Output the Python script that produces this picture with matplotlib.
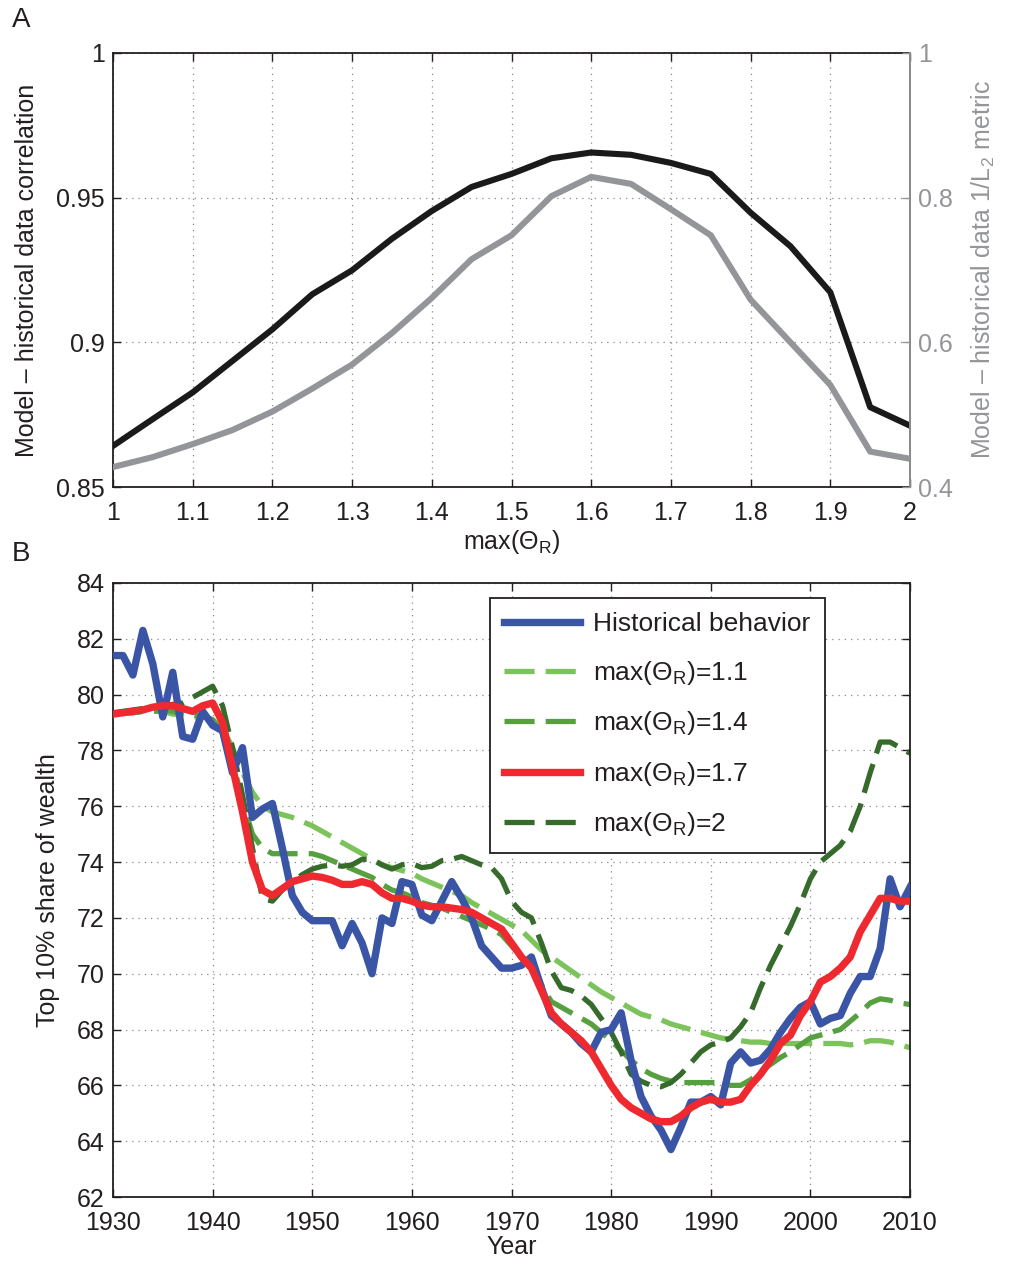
import numpy as np
import matplotlib
matplotlib.use("Agg")
import matplotlib.pyplot as plt

plt.rcParams['font.family'] = ['Liberation Sans', 'DejaVu Sans']
plt.rcParams['mathtext.fontset'] = 'custom'
plt.rcParams['mathtext.rm'] = 'Liberation Sans'
plt.rcParams['mathtext.it'] = 'Liberation Sans'
plt.rcParams['mathtext.default'] = 'regular'

# Panel A: fit quality against max(Theta_R)
theta_max = [1.0, 1.05, 1.1, 1.15, 1.2, 1.25, 1.3, 1.35, 1.4, 1.45, 1.5,
             1.55, 1.6, 1.65, 1.7, 1.75, 1.8, 1.85, 1.9, 1.95, 2.0]
correlation = [0.8642, 0.8735, 0.8827, 0.8936, 0.9045, 0.9166, 0.9249, 0.9358,
               0.9454, 0.9537, 0.9582, 0.9636, 0.9656, 0.9648, 0.9620, 0.9582,
               0.9448, 0.9332, 0.9173, 0.8776, 0.8712]
inv_l2 = [0.4276, 0.4414, 0.4593, 0.4788, 0.5043, 0.5360, 0.5693, 0.6128,
          0.6614, 0.7150, 0.7480, 0.8020, 0.8287, 0.8190, 0.7840, 0.7480,
          0.6590, 0.6000, 0.5410, 0.4490, 0.4390]

# Panel B: top 10% wealth share, 1930-2010
years = list(range(1930, 2011))
historical = [81.4, 81.4, 80.7, 82.3, 81.1, 79.2, 80.8, 78.5, 78.4, 79.4,
              78.9, 78.7, 77.2, 78.1, 75.6, 75.9, 76.1, 74.5, 72.8, 72.2,
              71.9, 71.9, 71.9, 71.0, 71.8, 71.1, 70.0, 72.0, 71.8, 73.3,
              73.2, 72.1, 71.9, 72.6, 73.3, 72.7, 72.0, 71.0, 70.6, 70.2,
              70.2, 70.3, 70.6, 69.5, 68.5, 68.2, 67.9, 67.5, 67.2, 67.9,
              68.0, 68.6, 66.9, 65.6, 64.9, 64.4, 63.7, 64.5, 65.4, 65.4,
              65.6, 65.3, 66.8, 67.2, 66.8, 66.9, 67.3, 67.9, 68.4, 68.8,
              69.0, 68.2, 68.4, 68.5, 69.3, 69.9, 69.9, 70.9, 73.4, 72.4,
              73.1]
model_11 = [79.35, 79.35, 79.35, 79.4, 79.4, 79.4, 79.3, 79.3, 79.2, 79.2,
            79.1, 78.8, 78.1, 77.2, 76.5, 76.0, 75.8, 75.7, 75.6, 75.45,
            75.3, 75.1, 74.9, 74.7, 74.5, 74.3, 74.1, 73.9, 73.8, 73.7,
            73.6, 73.4, 73.25, 73.1, 72.95, 72.8, 72.55, 72.35, 72.15, 71.95,
            71.75, 71.55, 71.2, 70.85, 70.6, 70.35, 70.1, 69.85, 69.6, 69.35,
            69.15, 68.95, 68.75, 68.55, 68.45, 68.35, 68.2, 68.1, 68.0, 67.9,
            67.8, 67.7, 67.65, 67.6, 67.55, 67.55, 67.5, 67.5, 67.5, 67.5,
            67.5, 67.5, 67.5, 67.5, 67.45, 67.5, 67.6, 67.6, 67.55, 67.45,
            67.35]
model_14 = [79.35, 79.35, 79.35, 79.4, 79.4, 79.45, 79.4, 79.3, 79.25, 79.25,
            79.1, 78.6, 77.6, 76.2, 75.0, 74.5, 74.3, 74.3, 74.3, 74.3,
            74.3, 74.2, 74.05, 73.9, 73.75, 73.6, 73.45, 73.2, 73.0, 72.9,
            72.75, 72.55, 72.45, 72.35, 72.2, 72.05, 71.9, 71.75, 71.6, 71.4,
            71.0, 70.6, 70.2, 69.6, 69.0, 68.8, 68.6, 68.4, 68.2, 67.9,
            67.6, 67.25, 66.9, 66.6, 66.4, 66.25, 66.15, 66.1, 66.1, 66.1,
            66.1, 66.1, 66.0, 66.0, 66.2, 66.5, 66.75, 67.0, 67.2, 67.45,
            67.7, 67.8, 67.9, 68.0, 68.3, 68.6, 68.95, 69.1, 69.05, 68.95,
            68.9]
model_17 = [79.3, 79.35, 79.4, 79.45, 79.55, 79.6, 79.6, 79.5, 79.4, 79.6,
            79.7, 79.0, 77.4, 75.8, 74.0, 73.0, 72.8, 73.05, 73.3, 73.4,
            73.5, 73.45, 73.35, 73.2, 73.2, 73.3, 73.2, 72.9, 72.7, 72.7,
            72.6, 72.45, 72.4, 72.4, 72.35, 72.3, 72.2, 72.0, 71.8, 71.6,
            71.1, 70.6, 70.2, 69.4, 68.6, 68.2, 67.9, 67.6, 67.2, 66.6,
            66.0, 65.5, 65.2, 65.0, 64.8, 64.7, 64.7, 64.9, 65.2, 65.4,
            65.5, 65.4, 65.4, 65.5, 66.0, 66.4, 66.9, 67.5, 67.8, 68.5,
            69.0, 69.7, 69.9, 70.2, 70.6, 71.5, 72.1, 72.7, 72.7, 72.6,
            72.6]
model_20 = [79.35, 79.4, 79.45, 79.5, 79.55, 79.6, 79.65, 79.7, 79.9, 80.1,
            80.3, 79.6, 78.1, 76.4, 74.5, 72.7, 72.6, 73.0, 73.3, 73.55,
            73.75, 73.85, 73.9, 73.85, 73.9, 74.1, 74.1, 73.9, 73.75, 73.9,
            73.95, 73.8, 73.85, 74.05, 74.1, 74.2, 74.05, 73.9, 73.8, 73.4,
            72.6, 72.2, 72.0, 71.1, 70.1, 69.5, 69.4, 69.2, 68.9, 68.4,
            67.9, 67.2, 66.4, 66.15, 66.0, 65.95, 66.1, 66.4, 66.8, 67.2,
            67.45, 67.55, 67.7, 68.1, 68.6, 69.5, 70.3, 71.0, 71.7, 72.5,
            73.4, 74.0, 74.3, 74.6, 75.1, 76.0, 77.2, 78.3, 78.3, 78.1,
            77.9]

BLUE = "#3a55a6"
RED = "#ee2a30"
LIGHT_GREEN = "#7cc35c"
MID_GREEN = "#56a040"
DARK_GREEN = "#376b2c"
GRAY = "#939598"
TEXT = "#231f20"
FS = 18


def matlab_style(ax):
    ax.grid(True, linestyle=(0, (1, 4)), color="#8a8a8a", linewidth=0.9)
    ax.tick_params(direction="in", length=6, width=1, labelsize=FS,
                   colors=TEXT, pad=6)
    ax.tick_params(axis="x", pad=10)
    for sp in ax.spines.values():
        sp.set_linewidth(1.3)
        sp.set_color(TEXT)


fig = plt.figure(figsize=(10.16, 12.64), dpi=100)

# ---- panel A ----
ax1 = fig.add_axes([0.1112, 0.6147, 0.7845, 0.3434])
ax1.plot(theta_max, correlation, color="#1a1a1a", linewidth=4.4, zorder=3)
ax1.set_xlim(1, 2)
ax1.set_ylim(0.85, 1)
ax1.set_xticks(np.arange(1, 2.01, 0.1))
ax1.set_xticklabels(["1", "1.1", "1.2", "1.3", "1.4", "1.5", "1.6",
                     "1.7", "1.8", "1.9", "2"])
ax1.set_yticks([0.85, 0.9, 0.95, 1])
ax1.set_yticklabels(["0.85", "0.9", "0.95", "1"])
matlab_style(ax1)
ax1.tick_params(top=True, right=False)
ax1.set_xlabel(r"max($\Theta_R$)", fontsize=FS, color=TEXT, labelpad=2)
ax1.set_ylabel("Model \u2013 historical data correlation", fontsize=FS,
               color=TEXT, labelpad=12)

ax1r = ax1.twinx()
ax1r.plot(theta_max, inv_l2, color=GRAY, linewidth=4.4, zorder=2)
ax1r.set_ylim(0.4, 1)
ax1r.set_yticks([0.4, 0.6, 0.8, 1])
ax1r.set_yticklabels(["0.4", "0.6", "0.8", "1"])
ax1r.tick_params(direction="in", length=6, width=1, labelsize=FS,
                 colors=GRAY, pad=6)
ax1r.spines["right"].set_color(GRAY)
ax1r.spines["right"].set_linewidth(1.3)
for s in ("left", "top", "bottom"):
    ax1r.spines[s].set_visible(False)
ax1r.set_ylabel("Model \u2013 historical data 1/L$_2$ metric",
                fontsize=FS, color=GRAY, labelpad=12)

# ---- panel B ----
ax2 = fig.add_axes([0.1112, 0.053, 0.7845, 0.4858])
dash = (0, (5.7, 2.1))
ax2.plot(years, historical, color=BLUE, linewidth=5.3,
         label="Historical behavior", zorder=3)
ax2.plot(years, model_11, color=LIGHT_GREEN, linewidth=3.8, linestyle=dash,
         label=r"max($\Theta_R$)=1.1", zorder=2)
ax2.plot(years, model_14, color=MID_GREEN, linewidth=3.8, linestyle=dash,
         label=r"max($\Theta_R$)=1.4", zorder=2)
ax2.plot(years, model_17, color=RED, linewidth=5.3,
         label=r"max($\Theta_R$)=1.7", zorder=4)
ax2.plot(years, model_20, color=DARK_GREEN, linewidth=3.8, linestyle=dash,
         label=r"max($\Theta_R$)=2", zorder=2)
ax2.set_xlim(1930, 2010)
ax2.set_ylim(62, 84)
ax2.set_xticks(range(1930, 2011, 10))
ax2.set_yticks(range(62, 85, 2))
matlab_style(ax2)
ax2.tick_params(top=True, right=True)
ax2.set_xlabel("Year", fontsize=FS, color=TEXT, labelpad=0)
ax2.set_ylabel("Top 10% share of wealth", fontsize=FS, color=TEXT, labelpad=12)

leg = ax2.legend(loc="upper left", bbox_to_anchor=(0.473, 0.9756),
                 borderaxespad=0, fontsize=19, handlelength=2.85,
                 handletextpad=0.5, labelspacing=0.85, borderpad=0.55,
                 fancybox=False, framealpha=1, edgecolor=TEXT)
leg.get_frame().set_linewidth(1.3)
for t in leg.get_texts():
    t.set_color(TEXT)

fig.text(0.012, 0.984, "A", fontsize=20, color=TEXT, va="center")
fig.text(0.012, 0.562, "B", fontsize=20, color=TEXT, va="center")

fig.savefig("out.png", dpi=100)
